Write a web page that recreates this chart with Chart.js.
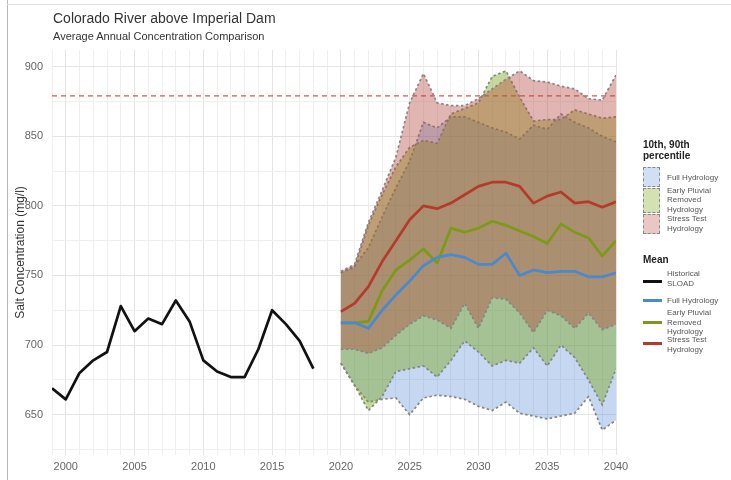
<!DOCTYPE html>
<html>
<head>
<meta charset="utf-8">
<script src="https://cdn.jsdelivr.net/npm/chart.js@4.4.1/dist/chart.umd.min.js"></script>
<style>
  html, body { margin: 0; padding: 0; background: #fff; }
  #wrap { position: relative; width: 731px; height: 480px; overflow: hidden; font-family: "Liberation Sans", Arial, sans-serif; }
  #c { position: absolute; left: 0; top: 0; }
  .t { position: absolute; white-space: nowrap; color: #444; }
  .title { left: 53px; top: 10px; font-size: 14px; color: #333; }
  .sub { left: 53px; top: 30px; font-size: 11px; color: #333; }
  .lh { font-size: 10px; font-weight: bold; color: #222; left: 643px; }
  .ll { font-size: 8px; color: #555; left: 667px; }
  .box { position: absolute; left: 643px; width: 17px; border: 1.5px dashed #888; box-sizing: border-box; }
  .ln { position: absolute; left: 643px; width: 19px; height: 2.5px; }
  #frameL { position: absolute; left: 7px; top: 0; width: 1px; height: 480px; background: #b8b8b8; }
  #frameT { position: absolute; left: 7px; top: 4px; width: 724px; height: 1px; background: #e0e0e0; }
</style>
</head>
<body>
<div id="wrap">
  <canvas id="c" width="731" height="480"></canvas>
  <div id="frameL"></div>
  <div id="frameT"></div>
  <div class="t title">Colorado River above Imperial Dam</div>
  <div class="t sub">Average Annual Concentration Comparison</div>
  <div id="legend"></div>
</div>
<script>
// ---------- DATA ----------
const histYears = [1999,2000,2001,2002,2003,2004,2005,2006,2007,2008,2009,2010,2011,2012,2013,2014,2015,2016,2017,2018];
const histSLOAD = [669,661,680,689,695,728,710,719,715,732,717,689,681,677,677,697,725,715,703,683];

const projYears = [2020,2021,2022,2023,2024,2025,2026,2027,2028,2029,2030,2031,2032,2033,2034,2035,2036,2037,2038,2039,2040];
const meanFull   = [716,716,712,725,736,746,757,763,765,763,758,758,766,750,754,752,753,753,749,749,752];
const meanEarly  = [716,716,717,739,754,761,769,759,784,781,784,789,786,782,778,773,787,781,777,764,775];
const meanStress = [724,730,742,760,775,790,800,798,802,808,814,817,817,814,802,807,810,802,803,799,803];

const fullHi   = [752,757,770,792,813,832,860,856,864,864,860,856,853,848,858,855,866,860,856,850,846];
const fullLo   = [687,671,659,661,662,650,662,664,663,661,656,653,659,651,649,647,649,651,663,639,646];
const earlyHi  = [752,756,786,808,828,842,847,845,866,870,874,893,897,878,861,862,862,869,866,863,864];
const earlyLo  = [687,671,653,663,681,683,685,677,689,703,695,685,689,687,698,685,700,691,675,657,683];
const stressHi = [753,758,788,811,835,874,895,874,872,872,877,884,891,897,890,889,886,884,877,876,894];
const stressLo = [697,697,694,698,707,715,721,718,712,730,712,734,733,723,709,725,721,712,723,711,715];

const criterionYears = [1999, 2040];
const criterionValue = 879;

const xTickLabels = [2000,2005,2010,2015,2020,2025,2030,2035,2040];
const yTickLabels = [650,700,750,800,850,900];

// ---------- STYLE ----------
const C = {
  hist: '#111111',
  full: '#4a88cf',
  early: '#7c9a16',
  stress: '#b63a2c',
  fullFill: 'rgba(90,140,215,0.35)',
  earlyFill: 'rgba(120,165,20,0.42)',
  stressFill: 'rgba(180,70,60,0.40)',
  bandEdge: '#858585',
  crit: '#e05252'
};
const pts = (xs, ys) => xs.map((x, i) => ({x: x, y: ys[i]}));
const edge = (label, data, fill, bg, order) => ({
  label, data, fill, backgroundColor: bg || 'transparent',
  borderColor: C.bandEdge, borderWidth: 1.7, borderDash: [2.5, 2.5],
  pointRadius: 0, tension: 0, order
});
const meanLine = (label, data, color, order) => ({
  label, data, borderColor: color, borderWidth: 2.7, fill: false,
  pointRadius: 0, tension: 0, order, borderJoinStyle: 'round'
});

Chart.defaults.font.family = '"Liberation Sans", Arial, sans-serif';

const datasets = [
  {label: 'criterion', data: pts(criterionYears, [criterionValue, criterionValue]), borderColor: C.crit,
   borderWidth: 1.3, borderDash: [5, 4], pointRadius: 0, fill: false, order: 10},
  edge('fullLo', pts(projYears, fullLo), false, null, 6),
  edge('fullHi', pts(projYears, fullHi), '-1', C.fullFill, 6),
  edge('earlyLo', pts(projYears, earlyLo), false, null, 5),
  edge('earlyHi', pts(projYears, earlyHi), '-1', C.earlyFill, 5),
  edge('stressLo', pts(projYears, stressLo), false, null, 4),
  edge('stressHi', pts(projYears, stressHi), '-1', C.stressFill, 4),
  meanLine('Historical SLOAD', pts(histYears, histSLOAD), C.hist, 0),
  meanLine('Full Hydrology', pts(projYears, meanFull), C.full, 0),
  meanLine('Early Pluvial Removed Hydrology', pts(projYears, meanEarly), C.early, 0),
  meanLine('Stress Test Hydrology', pts(projYears, meanStress), C.stress, 0)
];

const xAll = []; for (let y = 1999; y <= 2040; y++) xAll.push(y);
const yAll = []; for (let v = 625; v <= 900; v += 25) yAll.push(v);

new Chart(document.getElementById('c'), {
  type: 'line',
  data: { datasets },
  options: {
    responsive: false, animation: false, devicePixelRatio: 1,
    layout: { padding: { left: 8, top: 50, right: 115, bottom: 0 } },
    plugins: { legend: { display: false }, tooltip: { enabled: false }, title: { display: false } },
    scales: {
      x: {
        type: 'linear', min: 1999, max: 2040,
        afterBuildTicks: s => { s.ticks = xAll.map(v => ({value: v})); },
        afterFit: s => { s.height = 25; },
        ticks: { autoSkip: false, maxRotation: 0, padding: 5, color: '#666', font: {size: 11},
                 callback: v => xTickLabels.includes(v) ? String(v) : '' },
        grid: { drawTicks: false, lineWidth: 1,
                color: ctx => (ctx.tick && xTickLabels.includes(ctx.tick.value)) ? '#e4e4e4' : '#efefef' },
        border: { display: false }
      },
      y: {
        min: 621, max: 912,
        afterBuildTicks: s => { s.ticks = yAll.map(v => ({value: v})); },
        afterFit: s => { s.width = 44; },
        ticks: { padding: 9, color: '#666', font: {size: 11},
                 callback: v => yTickLabels.includes(v) ? String(v) : '' },
        grid: { drawTicks: false, lineWidth: 1,
                color: ctx => (ctx.tick && yTickLabels.includes(ctx.tick.value)) ? '#e4e4e4' : '#efefef' },
        border: { display: false },
        title: { display: true, text: 'Salt Concentration (mg/l)', color: '#333', font: {size: 12}, padding: {top: 5, bottom: 0} }
      }
    }
  }
});

// ---------- HTML LEGEND ----------
const L = document.getElementById('legend');
function txt(cls, s, top) { const d = document.createElement('div'); d.className = 't ' + cls; d.textContent = s; d.style.top = top + 'px'; L.appendChild(d); }
function box(top, h, bg) { const d = document.createElement('div'); d.className = 'box'; d.style.top = top + 'px'; d.style.height = h + 'px'; d.style.background = bg; L.appendChild(d); }
function ln(top, color) { const d = document.createElement('div'); d.className = 'ln'; d.style.top = top + 'px'; d.style.background = color; L.appendChild(d); }

txt('lh', '10th, 90th', 139);
txt('lh', 'percentile', 150);
box(167, 20, 'rgba(90,140,215,0.28)');
box(188, 25, 'rgba(120,165,20,0.32)');
box(214, 20, 'rgba(180,70,60,0.30)');
txt('ll', 'Full Hydrology', 173);
txt('ll', 'Early Pluvial', 186);
txt('ll', 'Removed', 195);
txt('ll', 'Hydrology', 205);
txt('ll', 'Stress Test', 214);
txt('ll', 'Hydrology', 224);

txt('lh', 'Mean', 254);
ln(280, C.hist);
txt('ll', 'Historical', 269);
txt('ll', 'SLOAD', 279);
ln(299, C.full);
txt('ll', 'Full Hydrology', 296);
ln(321, C.early);
txt('ll', 'Early Pluvial', 308);
txt('ll', 'Removed', 318);
txt('ll', 'Hydrology', 327);
ln(342, C.stress);
txt('ll', 'Stress Test', 335);
txt('ll', 'Hydrology', 345);
</script>
</body>
</html>
